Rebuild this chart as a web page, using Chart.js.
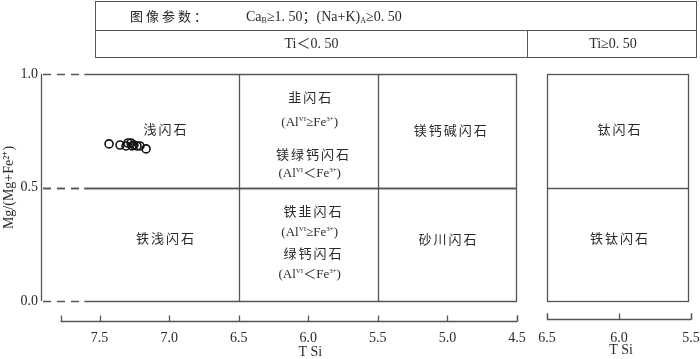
<!DOCTYPE html>
<html>
<head>
<meta charset="utf-8">
<script src="https://cdn.jsdelivr.net/npm/chart.js@4.4.1/dist/chart.umd.min.js"></script>
<style>
  body { margin: 0; background: #fff; }
  #wrap { position: relative; width: 700px; height: 359px; overflow: hidden;
    font-family: "Liberation Serif", "Noto Sans CJK SC", serif; color: #2a2a2a; }
  canvas { position: absolute; top: 0; }
  #c1 { left: 0; }
  #c2 { left: 530px; }
  #hdr { position: absolute; left: 95px; top: 1px; width: 602px; height: 57px;
    border: 1.3px solid #555; box-sizing: border-box; font-size: 14px; z-index: 2; }
  #hdr .row1 { position: absolute; left: 0; top: 0; width: 100%; height: 29px;
    border-bottom: 1.3px solid #555; box-sizing: border-box; }
  #hdr .cell { position: absolute; top: 29px; height: 26px; line-height: 26px; text-align: center; }
  #hdr sub { font-size: 8px; vertical-align: -2px; }
  .cjk { letter-spacing: 3px; font-size: 13px; }
</style>
</head>
<body>
<div id="wrap">
  <div id="hdr">
    <div class="row1">
      <span class="cjk" style="position:absolute;left:34px;top:4px">图像参数：</span>
      <span style="position:absolute;left:150px;top:3px">Ca<sub>B</sub>≥1. 50；(Na+K)<sub>A</sub>≥0. 50</span>
    </div>
    <div class="cell" style="left:0;width:431px;border-right:1.3px solid #555">Ti＜0. 50</div>
    <div class="cell" style="left:432px;width:170px">Ti≥0. 50</div>
  </div>
  <canvas id="c1" width="530" height="359"></canvas>
  <canvas id="c2" width="170" height="359"></canvas>
</div>
<script>
// sample points (T Si, Mg/(Mg+Fe2+))
const sampleSi = [7.432, 7.353, 7.310, 7.296, 7.274, 7.267, 7.253, 7.231, 7.210, 7.166];
const sampleMg = [0.692, 0.687, 0.683, 0.696, 0.696, 0.683, 0.687, 0.683, 0.683, 0.670];

// axis ticks
const mainTicks = [4.5, 5.0, 5.5, 6.0, 6.5, 7.0, 7.5];
const tiTicks = [5.5, 6.0, 6.5];
const yTicks = [0.0, 0.5, 1.0];

// field boundaries
const mainDividers = [6.5, 5.5];
const mgDivider = 0.5;

// field names (main panel)
const fieldNames = ['浅闪石', '铁浅闪石', '韭闪石', '(Al^{VI}≥Fe^{3+})', '镁绿钙闪石', '(Al^{VI}＜Fe^{3+})',
  '铁韭闪石', '(Al^{VI}≥Fe^{3+})', '绿钙闪石', '(Al^{VI}＜Fe^{3+})', '镁钙碱闪石', '砂川闪石'];
const fieldX = [7.03, 7.03, 5.99, 5.99, 5.97, 5.99, 5.97, 5.99, 5.97, 5.99, 4.98, 5.0];
const fieldY = [0.75, 0.27, 0.89, 0.785, 0.64, 0.56, 0.39, 0.30, 0.205, 0.115, 0.745, 0.265];
// field names (Ti panel)
const tiNames = ['钛闪石', '铁钛闪石'];
const tiX = [6.0, 6.0];
const tiY = [0.75, 0.27];

const LINE = '#555';
const TXT = '#2a2a2a';
const SERIF = '"Liberation Serif", "Noto Sans CJK SC", serif';

function richText(ctx, str, cx, cy) {
  const parts = [];
  str.split(/(\^\{[^}]*\})/).forEach(s => {
    if (!s) return;
    if (s.startsWith('^{')) parts.push([s.slice(2, -1), true]);
    else parts.push([s, false]);
  });
  const big = '13px ' + SERIF, small = '7px ' + SERIF;
  const isCjk = /[\u4e00-\u9fff]/.test(str);
  ctx.letterSpacing = isCjk ? '2px' : '0px';
  let w = 0;
  parts.forEach(p => { ctx.font = p[1] ? small : big; w += ctx.measureText(p[0]).width; });
  if (isCjk) w -= 2;
  let px = cx - w / 2;
  ctx.textAlign = 'left';
  ctx.textBaseline = 'middle';
  parts.forEach(p => {
    ctx.font = p[1] ? small : big;
    ctx.fillText(p[0], px, p[1] ? cy - 4 : cy);
    px += ctx.measureText(p[0]).width;
  });
  ctx.letterSpacing = '0px';
}

function seg(ctx, x1, y1, x2, y2) {
  ctx.beginPath(); ctx.moveTo(x1, y1); ctx.lineTo(x2, y2); ctx.stroke();
}

function drawAxis(ctx, xs, ticks, from, to, yAxis) {
  const a = xs.getPixelForValue(from), b = xs.getPixelForValue(to);
  seg(ctx, a, yAxis, b, yAxis);
  [from, to].concat(ticks).forEach(v => {
    const p = Math.round(xs.getPixelForValue(v)) + 0.5;
    seg(ctx, p, yAxis, p, yAxis - 6);
  });
  ctx.fillStyle = TXT;
  ctx.font = '14px ' + SERIF;
  ctx.textAlign = 'center';
  ctx.textBaseline = 'middle';
  ctx.fillText('T Si', xs.getPixelForValue(6.0) + 2, yAxis + 31);
}

const mainFrame = {
  id: 'mainFrame',
  beforeDatasetsDraw(chart) {
    const { ctx, chartArea: c, scales: { x, y } } = chart;
    ctx.save();
    ctx.strokeStyle = LINE;
    ctx.lineWidth = 1.3;
    const dashEnd = x.getPixelForValue(7.61);
    yTicks.concat([mgDivider]).forEach(v => {
      const py = Math.round(y.getPixelForValue(v)) + 0.5;
      ctx.setLineDash([8, 6]);
      ctx.lineDashOffset = -2;
      seg(ctx, c.left, py, dashEnd, py);
      ctx.setLineDash([]);
      seg(ctx, dashEnd, py, c.right, py);
    });
    seg(ctx, c.left + 0.5, c.top, c.left + 0.5, c.bottom);
    seg(ctx, c.right - 0.5, c.top, c.right - 0.5, c.bottom);
    mainDividers.forEach(v => {
      const px = Math.round(x.getPixelForValue(v)) + 0.5;
      seg(ctx, px, y.getPixelForValue(1), px, y.getPixelForValue(0));
    });
    drawAxis(ctx, x, mainTicks, 7.78, 4.5, Math.round(y.getPixelForValue(0)) + 20.5);
    ctx.fillStyle = TXT;
    fieldNames.forEach((t, i) => richText(ctx, t, x.getPixelForValue(fieldX[i]), y.getPixelForValue(fieldY[i])));
    ctx.restore();
  }
};

const tiFrame = {
  id: 'tiFrame',
  beforeDatasetsDraw(chart) {
    const { ctx, chartArea: c, scales: { x, y } } = chart;
    ctx.save();
    ctx.strokeStyle = LINE;
    ctx.lineWidth = 1.3;
    ctx.strokeRect(c.left + 0.5, c.top + 0.5, c.right - c.left - 3, c.bottom - c.top);
    const py = Math.round(y.getPixelForValue(mgDivider)) + 0.5;
    seg(ctx, c.left, py, c.right - 2.5, py);
    drawAxis(ctx, x, tiTicks, 6.5, 5.5, Math.round(y.getPixelForValue(0)) + 18.5);
    ctx.fillStyle = TXT;
    tiNames.forEach((t, i) => richText(ctx, t, x.getPixelForValue(tiX[i]), y.getPixelForValue(tiY[i])));
    ctx.restore();
  }
};

const tickFont = { family: SERIF, size: 14 };

new Chart(document.getElementById('c1'), {
  type: 'scatter',
  data: {
    datasets: [{
      data: sampleSi.map((v, i) => ({ x: v, y: sampleMg[i] })),
      pointStyle: 'circle',
      pointRadius: 4,
      pointBorderWidth: 1.6,
      pointBackgroundColor: 'rgba(255,255,255,0)',
      pointBorderColor: '#111',
    }],
  },
  options: {
    responsive: false,
    animation: false,
    layout: { padding: { top: 74, right: 13, left: 0, bottom: 0 } },
    plugins: { legend: { display: false }, tooltip: { enabled: false } },
    scales: {
      x: {
        type: 'linear',
        reverse: true,
        min: 4.5,
        max: 7.921,
        grid: { display: false, drawTicks: false },
        border: { display: false },
        afterBuildTicks: s => { s.ticks = mainTicks.map(v => ({ value: v })); },
        afterFit: s => { s.height = 58; },
        ticks: { font: tickFont, color: TXT, padding: 29, maxRotation: 0, callback: v => v.toFixed(1) },
      },
      y: {
        min: 0,
        max: 1,
        grid: { display: false, drawTicks: false },
        border: { display: false },
        afterBuildTicks: s => { s.ticks = yTicks.map(v => ({ value: v })); },
        afterFit: s => { s.width = 41; },
        ticks: { font: tickFont, color: TXT, padding: 3, callback: v => v.toFixed(1) },
        title: { display: true, text: 'Mg/(Mg+Fe²⁺)', font: { family: SERIF, size: 14 }, color: TXT, padding: { top: 1, bottom: 0 } },
      },
    },
  },
  plugins: [mainFrame],
});

new Chart(document.getElementById('c2'), {
  type: 'scatter',
  data: { datasets: [{ data: [] }] },
  options: {
    responsive: false,
    animation: false,
    layout: { padding: { top: 74, right: 9, left: 17, bottom: 0 } },
    plugins: { legend: { display: false }, tooltip: { enabled: false } },
    scales: {
      x: {
        type: 'linear',
        reverse: true,
        min: 5.5,
        max: 6.5,
        grid: { display: false, drawTicks: false },
        border: { display: false },
        afterBuildTicks: s => { s.ticks = tiTicks.map(v => ({ value: v })); },
        afterFit: s => { s.height = 58; },
        ticks: { font: tickFont, color: TXT, padding: 29, maxRotation: 0, callback: v => v.toFixed(1) },
      },
      y: { display: false, min: 0, max: 1 },
    },
  },
  plugins: [tiFrame],
});
</script>
</body>
</html>
